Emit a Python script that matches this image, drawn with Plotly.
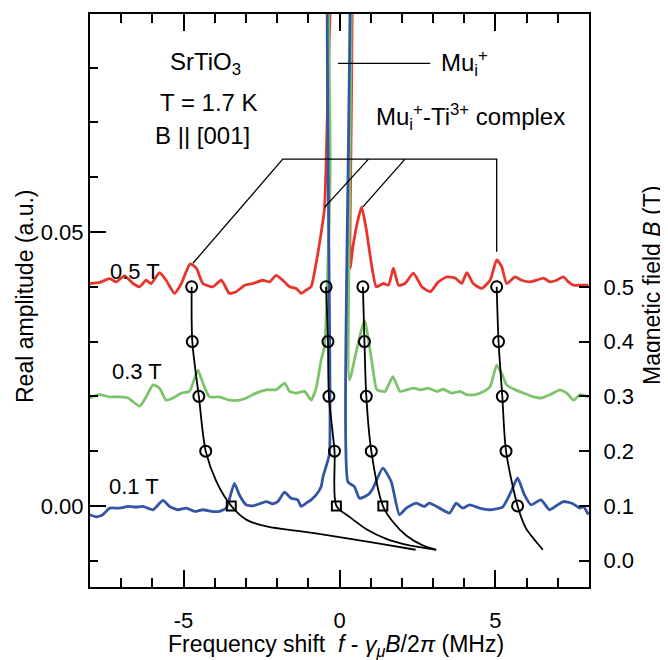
import plotly.graph_objects as go

FONT = "Liberation Sans, Arial, sans-serif"

# ---------------- spectra (frequency shift MHz, real amplitude a.u.) ----------------
red_f = [-8.01, -7.69, -7.37, -7.16, -6.89, -6.62, -6.41, -6.2, -6.04, -5.77, -5.56, -5.29, -5.07,
         -4.79, -4.59, -4.38, -4.06, -3.79, -3.53, -3.31, -3.04, -2.78, -2.46, -2.24, -2.03, -1.82,
         -1.6, -1.39, -1.23, -1.07, -0.91, -0.75, -0.59, -0.48, 0.0, 0.28, 0.34, 0.43, 0.59, 0.71,
         0.86, 1.02, 1.18, 1.41, 1.57, 1.73, 1.89, 2.1, 2.37, 2.64, 2.91, 3.17, 3.44, 3.71, 3.92,
         4.08, 4.29, 4.56, 4.83, 5.04, 5.2, 5.36, 5.63, 5.84, 6.11, 6.32, 6.54, 6.75, 6.96, 7.18,
         7.34, 7.5, 7.71, 7.98]
red_a = [0.0406, 0.0408, 0.0415, 0.0409, 0.0420, 0.0406, 0.0400, 0.0412, 0.0406, 0.0426, 0.0412, 0.0388, 0.0406,
         0.0442, 0.0434, 0.0406, 0.0400, 0.0412, 0.0388, 0.0391, 0.0403, 0.0406, 0.0412, 0.0409, 0.0421, 0.0412,
         0.0400, 0.0397, 0.0388, 0.0394, 0.0400, 0.0443, 0.0498, 0.0543, 0.1200, 0.1200, 0.0434, 0.0473, 0.0522, 0.0546,
         0.0504, 0.0443, 0.0400, 0.0406, 0.0403, 0.0434, 0.0403, 0.0406, 0.0425, 0.0400, 0.0391, 0.0409, 0.0418, 0.0416, 0.0406,
         0.0426, 0.0406, 0.0397, 0.0412, 0.0449, 0.0437, 0.0406, 0.0418, 0.0412, 0.0409, 0.0412, 0.0416, 0.0409, 0.0412, 0.0418,
         0.0409, 0.0403, 0.0403, 0.0403]

green_f = [-8.01, -7.69, -7.37, -7.05, -6.78, -6.41, -6.2, -5.98, -5.77, -5.56, -5.34, -5.07, -4.81,
           -4.54, -4.38, -4.17, -3.85, -3.53, -3.21, -2.99, -2.67, -2.35, -2.03, -1.76, -1.6, -1.39,
           -1.12, -0.91, -0.75, -0.59, -0.48, -0.30, -0.22, 0.2, 0.32, 0.55, 0.8, 1.03, 1.2, 1.46,
           1.71, 1.94, 2.16, 2.37, 2.59, 2.85, 3.12, 3.33, 3.6, 3.87, 4.08, 4.35, 4.62, 4.83, 5.04,
           5.2, 5.36, 5.63, 5.9, 6.22, 6.48, 6.75, 7.07, 7.29, 7.5, 7.71, 7.98]
green_a = [0.0197, 0.0203, 0.0199, 0.0199, 0.0197, 0.0182, 0.0199, 0.0221, 0.0215, 0.0193, 0.0197, 0.0206, 0.0209,
           0.0248, 0.0224, 0.0199, 0.0199, 0.0193, 0.0193, 0.0197, 0.0206, 0.0212, 0.0212, 0.0224, 0.0209, 0.0206,
           0.0209, 0.0193, 0.0215, 0.0266, 0.0291, 0.0600, 0.1500, 0.1500, 0.0230, 0.0285, 0.0339, 0.0266, 0.0212, 0.0209,
           0.0236, 0.0209, 0.0212, 0.0215, 0.0212, 0.0215, 0.0209, 0.0213, 0.0206, 0.0209, 0.0203, 0.0203, 0.0209, 0.0218, 0.0257,
           0.0242, 0.0221, 0.0212, 0.0206, 0.0199, 0.0197, 0.0203, 0.0212, 0.0206, 0.0193, 0.0203, 0.0199]

blue_f = [-8.01, -7.8, -7.59, -7.37, -7.05, -6.78, -6.52, -6.3, -5.98, -5.66, -5.45, -5.18, -4.91,
          -4.65, -4.38, -4.11, -3.85, -3.63, -3.37, -3.21, -2.99, -2.78, -2.51, -2.35, -2.14, -1.98,
          -1.76, -1.55, -1.34, -1.23, -1.07, -0.91, -0.75, -0.59, -0.53, -0.43, -0.32, -0.20, 0.2,
          0.27, 0.48, 0.64, 0.91, 1.07, 1.39, 1.66, 1.92, 2.14, 2.46, 2.72, 2.88, 3.21, 3.53, 3.74,
          3.95, 4.17, 4.49, 4.81, 5.23, 5.5, 5.71, 5.93, 6.14, 6.46, 6.73, 7.0, 7.18, 7.45, 7.71,
          7.82, 7.98]
blue_a = [-0.0016, -0.0020, -0.0016, -0.0004, -0.0004, -0.0001, -0.0002, -0.0001, -0.0007, 0.0010, -0.0001, -0.0007, -0.0004,
          -0.0010, -0.0007, -0.0010, -0.0010, -0.0004, 0.0041, 0.0020, 0.0002, 0.0000, 0.0005, 0.0008, 0.0004, 0.0008,
          0.0025, 0.0014, 0.0011, -0.0001, 0.0005, 0.0011, 0.0020, 0.0035, 0.0053, 0.0072, 0.0096, 0.1300, 0.1300,
          0.0044, 0.0035, 0.0014, 0.0020, 0.0032, 0.0069, 0.0044, -0.0016, -0.0004, 0.0005, -0.0001, 0.0005, -0.0004, -0.0013, 0.0005,
          -0.0004, 0.0002, -0.0004, -0.0007, -0.0002, 0.0026, 0.0051, 0.0020, 0.0002, 0.0011, -0.0007, 0.0002, 0.0008, 0.0005, -0.0004,
          -0.0001, -0.0016]

# ---------------- peak positions vs field (right axis, tesla) ----------------
field_pts = [0.5, 0.4, 0.3, 0.2, 0.1]
br1_pts = [-4.74, -4.72, -4.51, -4.29, -3.47]
br2_pts = [-0.43, -0.37, -0.34, -0.16, -0.10]
br3_pts = [0.75, 0.80, 0.86, 1.02, 1.39]
br4_pts = [5.04, 5.10, 5.22, 5.34, 5.71]

# fitted curves
br1_curve_f = [-4.74, -4.72, -4.51, -4.29, -3.95, -3.47, -2.99, -2.30, -1.28, -0.20, 1.28, 2.44]
br1_curve_b = [0.5, 0.4, 0.3, 0.2, 0.145, 0.1, 0.075, 0.062, 0.054, 0.045, 0.031, 0.02]
br2_curve_f = [-0.43, -0.37, -0.34, -0.16, -0.10, 0.32, 0.85, 1.50, 2.24, 3.10]
br2_curve_b = [0.5, 0.4, 0.3, 0.2, 0.1, 0.08, 0.058, 0.04, 0.028, 0.02]
br3_curve_f = [0.75, 0.80, 0.86, 1.02, 1.39, 1.71, 2.14, 2.67, 3.10]
br3_curve_b = [0.5, 0.4, 0.3, 0.2, 0.1, 0.071, 0.046, 0.028, 0.02]
br4_curve_f = [5.04, 5.10, 5.22, 5.34, 5.71, 5.98, 6.30, 6.52]
br4_curve_b = [0.5, 0.4, 0.3, 0.2, 0.1, 0.059, 0.035, 0.02]

# tick labels
x_ticks = [-5, 0, 5]
x_ticktext = ["-5", "0", "5"]
yl_ticks = [0.0, 0.05]
yl_ticktext = ["0.00", "0.05"]
yr_ticks = [0.0, 0.1, 0.2, 0.3, 0.4, 0.5]
yr_ticktext = ["0.0", "0.1", "0.2", "0.3", "0.4", "0.5"]

# leader lines for annotations (f, amplitude)
mu_line_f = [-0.05, 2.91]
mu_line_a = [0.0808, 0.0808]
cx_main_f = [-4.70, -1.82, 5.04, 5.04]
cx_main_a = [0.0443, 0.0633, 0.0633, 0.0464]
cx_diag2_f = [0.93, -0.48]
cx_diag2_a = [0.0633, 0.0545]
cx_diag3_f = [2.10, 0.75]
cx_diag3_a = [0.0633, 0.0546]

RED = "#e5352c"
GREEN = "#7cc46c"
BLUE = "#3454a5"

fig = go.Figure()

for f, a, c in [(red_f, red_a, RED), (green_f, green_a, GREEN), (blue_f, blue_a, BLUE)]:
    fig.add_trace(go.Scatter(x=f, y=a, mode="lines",
                             line=dict(color=c, width=2.8, shape="spline", smoothing=0.5),
                             hoverinfo="skip", showlegend=False))

# leader lines
for lf, la in [(mu_line_f, mu_line_a), (cx_main_f, cx_main_a),
               (cx_diag2_f, cx_diag2_a), (cx_diag3_f, cx_diag3_a)]:
    fig.add_trace(go.Scatter(x=lf, y=la, mode="lines",
                             line=dict(color="black", width=1.3), showlegend=False))

# curves on right axis
for cf, cb in [(br1_curve_f, br1_curve_b), (br2_curve_f, br2_curve_b),
               (br3_curve_f, br3_curve_b), (br4_curve_f, br4_curve_b)]:
    fig.add_trace(go.Scatter(x=cf, y=cb, yaxis="y2", mode="lines",
                             line=dict(color="black", width=1.8, shape="spline", smoothing=0.8),
                             showlegend=False))

# markers
for k, pts in enumerate([br1_pts, br2_pts, br3_pts, br4_pts]):
    fig.add_trace(go.Scatter(x=pts[:4], y=field_pts[:4], yaxis="y2", mode="markers",
                             marker=dict(symbol="circle-open", size=11, color="black",
                                         line=dict(width=2, color="black")),
                             showlegend=False))
    sym = "square-open" if k < 3 else "circle-open"
    sz = 9 if k < 3 else 11
    fig.add_trace(go.Scatter(x=pts[4:], y=field_pts[4:], yaxis="y2", mode="markers",
                             marker=dict(symbol=sym, size=sz, color="black",
                                         line=dict(width=2, color="black")),
                             showlegend=False))

def ann(text, x, y, size=24, xanchor="center", xref="x", yref="y", angle=0):
    fig.add_annotation(text=text, x=x, y=y, xref=xref, yref=yref, showarrow=False,
                       xanchor=xanchor, yanchor="middle", textangle=angle,
                       font=dict(family=FONT, size=size, color="black"))

ann("SrTiO<sub>3</sub>", -4.3, (506 - 63) / 5480)
ann("T = 1.7 K", -4.2, (506 - 102) / 5480)
ann("B || [001]", -4.4, (506 - 135) / 5480)
ann("Mu<sub>i</sub><sup>+</sup>", 3.2, 0.0808, xanchor="left")
ann("Mu<sub>i</sub><sup>+</sup>-Ti<sup>3+</sup> complex", 4.2, 0.071)
ann("0.5 T", -6.55, (506 - 271) / 5480, size=22)
ann("0.3 T", -6.5, (506 - 372) / 5480, size=22)
ann("0.1 T", -6.6, (506 - 487) / 5480, size=22)

# axis titles (paper coords relative to plot area)
ann("Frequency shift  <i>f</i> - <i>γ</i><sub><i>μ</i></sub><i>B</i>/2<i>π</i> (MHz)",
    (336 - 90) / 499, (587 - 645) / 573, size=23, xref="paper", yref="paper")
ann("Real amplitude (a.u.)", (25 - 90) / 499, (587 - 296) / 573, size=23,
    xref="paper", yref="paper", angle=-90)
ann("Magnetic field <i>B</i> (T)", (652 - 90) / 499, (587 - 286) / 573, size=23,
    xref="paper", yref="paper", angle=-90)

# page has an 8px body margin: figure is 660x652, plot area lands at page x 90-589, y 14-587
fig.update_layout(
    width=660, height=652,
    margin=dict(l=82, r=79, t=6, b=73, autoexpand=False),
    paper_bgcolor="white", plot_bgcolor="white",
    font=dict(family=FONT, size=22, color="black"),
    showlegend=False,
    xaxis=dict(range=[-8, 8], showgrid=False, zeroline=False, showline=True,
               linecolor="black", linewidth=2, mirror="ticks",
               ticks="inside", ticklen=17, tickwidth=2, tickcolor="black",
               tickvals=x_ticks, ticktext=x_ticktext, tickfont=dict(size=22),
               ticklabelstandoff=13,
               minor=dict(dtick=1, tick0=0, ticks="inside", ticklen=9, tickwidth=2,
                          tickcolor="black", showgrid=False)),
    yaxis=dict(range=[-0.0148, 0.0898], showgrid=False, zeroline=False, showline=True,
               linecolor="black", linewidth=2, mirror=False,
               ticks="inside", ticklen=16, tickwidth=2, tickcolor="black",
               tickvals=yl_ticks, ticktext=yl_ticktext, tickfont=dict(size=22),
               minor=dict(dtick=0.01, tick0=0, ticks="inside", ticklen=8, tickwidth=2,
                          tickcolor="black", showgrid=False)),
    yaxis2=dict(range=[-0.048, 0.998], overlaying="y", side="right", anchor="x",
                showgrid=False, zeroline=False, showline=True,
                linecolor="black", linewidth=2,
                ticks="inside", ticklen=10, tickwidth=2, tickcolor="black",
                tickvals=yr_ticks, ticktext=yr_ticktext, tickfont=dict(size=22),
                ticklabelstandoff=8),
)

fig.write_html("out.html")
